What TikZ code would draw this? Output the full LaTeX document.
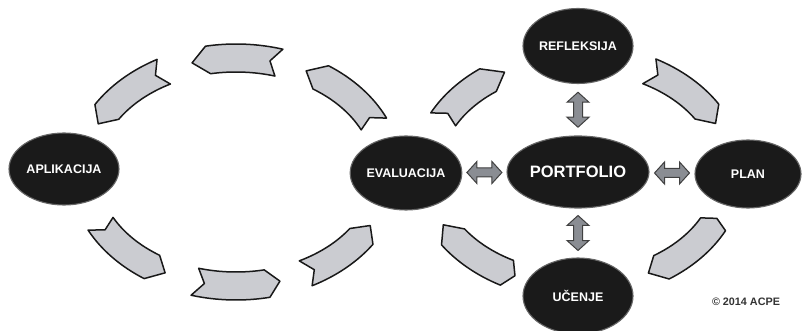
\documentclass[tikz,border=0pt]{standalone}
\usepackage{fontspec}
\setmainfont{Liberation Sans}
\usetikzlibrary{shapes.geometric,calc}
\definecolor{chevfill}{RGB}{203,204,209}
\definecolor{dblfill}{RGB}{138,141,147}
\definecolor{nodefill}{RGB}{26,26,26}
% tail angle, head angle, tip angle, notch angle
\newcommand\chevarrow[4]{%
  \draw[chev] (#1:166pt and 128pt)
    arc[start angle=#1, end angle=#2, x radius=166pt, y radius=128pt]
    -- (#3:152pt and 114pt) -- (#2:138pt and 100pt)
    arc[start angle=#2, end angle=#1, x radius=138pt, y radius=100pt]
    -- (#4:152pt and 114pt) -- cycle;}
\tikzset{
  blob/.style={ellipse, fill=nodefill, draw=black!60, line width=1.1pt, inner sep=0pt,
    text=white, font=\bfseries\fontsize{12.5}{14}\selectfont},
  chev/.style={fill=chevfill, draw=black!90, line width=1.5pt, line join=round},
  dbl/.style={fill=dblfill, draw=black!75, line width=1pt},
  dblarrow/.pic={\draw[dbl] (17.5,0) -- (7.5,11) -- (7.5,4.5) -- (-7.5,4.5) -- (-7.5,11)
    -- (-17.5,0) -- (-7.5,-11) -- (-7.5,-4.5) -- (7.5,-4.5) -- (7.5,-11) -- cycle;}
}
\begin{document}
\begin{tikzpicture}[x=1pt,y=1pt]
\useasboundingbox (0,0) rectangle (803,-331);
% nodes
\node[blob, minimum width=110pt, minimum height=72pt] (apl) at (64,-169) {APLIKACIJA};
\node[blob, minimum width=107pt, minimum height=74pt] (eva) at (406,-173) {EVALUACIJA};
\node[blob, minimum width=142pt, minimum height=72pt, font=\bfseries\fontsize{16.5}{18}\selectfont] (por) at (578,-172) {PORTFOLIO};
\node[blob, minimum width=106pt, minimum height=68pt] (pla) at (748,-174) {PLAN};
\node[blob, minimum width=110pt, minimum height=75pt] (ref) at (578,-46) {REFLEKSIJA};
\node[blob, minimum width=110pt, minimum height=76pt] (uce) at (578,-296) {UČENJE};
\node[font=\bfseries\fontsize{10.8}{12}\selectfont, text=black!80] (copy) at (746,-302) {© 2014 ACPE};
% left cycle
\begin{scope}[shift={(236,-172)}]
  \chevarrow{73.6}{100.6}{106.8}{77.1}
  \chevarrow{118.4}{148.2}{155}{122}
  \chevarrow{-153}{-123.6}{-117.8}{-149.5}
  \chevarrow{-105.7}{-78.2}{-73.2}{-102}
  \chevarrow{-62.7}{-34.4}{-28}{-59}
  \chevarrow{24.9}{56.1}{62.5}{28.5}
\end{scope}
% right cycle
\begin{scope}[shift={(578,-172)}]
  \chevarrow{62}{32}{25.2}{58.3}
  \chevarrow{-27.3}{-56.7}{-62.4}{-24}
  \chevarrow{-117.9}{-145.3}{-152.4}{-114.5}
  \chevarrow{152.5}{126.3}{118.9}{149}
\end{scope}
% double arrows between portfolio and neighbours
\coordinate (m1) at ($(ref.south)!0.5!(por.north)$);
\coordinate (m2) at ($(por.south)!0.5!(uce.north)$);
\coordinate (m3) at ($(eva.east)!0.5!(por.west)$);
\coordinate (m4) at ($(por.east)!0.5!(pla.west)$);
\pic[rotate=90] at (m1) {dblarrow};
\pic[rotate=90] at (m2) {dblarrow};
\pic at (m3) {dblarrow};
\pic at (m4) {dblarrow};
\end{tikzpicture}
\end{document}
